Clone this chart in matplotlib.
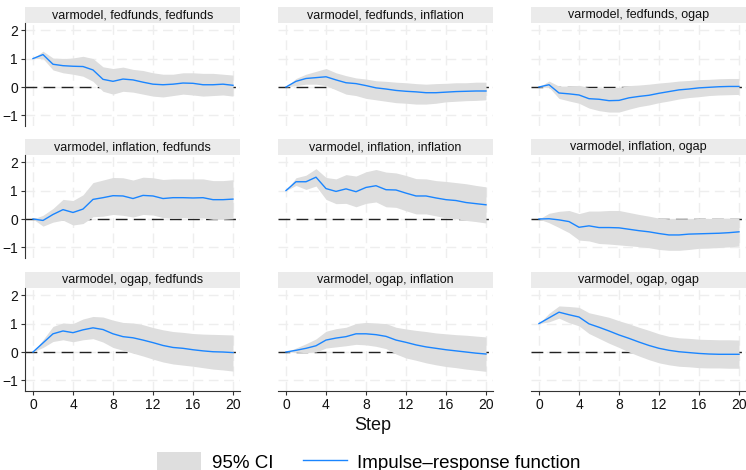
import numpy as np
import matplotlib.pyplot as plt
from matplotlib.patches import Rectangle, Patch
from matplotlib.lines import Line2D

plt.rcParams['font.family'] = ['Liberation Sans', 'DejaVu Sans']

step = np.arange(21)

# impulse, response pairs in panel order (row = impulse, column = response)
titles = [
    "varmodel, fedfunds, fedfunds", "varmodel, fedfunds, inflation", "varmodel, fedfunds, ogap",
    "varmodel, inflation, fedfunds", "varmodel, inflation, inflation", "varmodel, inflation, ogap",
    "varmodel, ogap, fedfunds", "varmodel, ogap, inflation", "varmodel, ogap, ogap",
]

irf_ff_ff = [1.0, 1.14, 0.8, 0.75, 0.73, 0.72, 0.6, 0.27, 0.2, 0.28, 0.25, 0.17, 0.1, 0.08, 0.1,
             0.14, 0.13, 0.08, 0.08, 0.1, 0.06]
lo_ff_ff = [1.0, 1.0, 0.6, 0.5, 0.45, 0.38, 0.2, -0.15, -0.25, -0.15, -0.18, -0.25, -0.32, -0.35,
            -0.3, -0.25, -0.28, -0.32, -0.3, -0.28, -0.32]
hi_ff_ff = [1.0, 1.26, 1.02, 1.0, 1.02, 1.08, 1.0, 0.71, 0.65, 0.7, 0.62, 0.58, 0.5, 0.45, 0.45,
            0.5, 0.5, 0.48, 0.48, 0.45, 0.42]

irf_ff_inf = [0.0, 0.2, 0.3, 0.33, 0.36, 0.25, 0.15, 0.12, 0.05, -0.03, -0.07, -0.12, -0.15, -0.17,
              -0.2, -0.2, -0.18, -0.16, -0.15, -0.14, -0.14]
lo_ff_inf = [0.0, 0.05, 0.1, 0.1, 0.05, -0.1, -0.25, -0.3, -0.4, -0.45, -0.5, -0.55, -0.57, -0.6,
             -0.6, -0.57, -0.52, -0.5, -0.48, -0.47, -0.45]
hi_ff_inf = [0.0, 0.3, 0.45, 0.55, 0.65, 0.5, 0.4, 0.32, 0.28, 0.22, 0.2, 0.17, 0.15, 0.12, 0.1,
             0.12, 0.13, 0.15, 0.15, 0.17, 0.17]

irf_ff_og = [0.0, 0.08, -0.21, -0.24, -0.28, -0.41, -0.43, -0.48, -0.47, -0.38, -0.33, -0.29, -0.22,
             -0.16, -0.1, -0.07, -0.03, -0.01, 0.01, 0.02, 0.02]
lo_ff_og = [0.0, -0.01, -0.4, -0.49, -0.57, -0.74, -0.83, -0.88, -0.88, -0.78, -0.69, -0.63, -0.55,
            -0.49, -0.42, -0.37, -0.34, -0.3, -0.28, -0.27, -0.26]
hi_ff_og = [0.0, 0.21, 0.03, 0.03, 0.06, -0.02, -0.03, -0.03, -0.01, 0.05, 0.07, 0.1, 0.14, 0.17,
            0.21, 0.23, 0.26, 0.27, 0.29, 0.3, 0.3]

irf_inf_ff = [0.0, -0.05, 0.16, 0.33, 0.23, 0.35, 0.69, 0.75, 0.82, 0.81, 0.72, 0.83, 0.81, 0.72,
              0.75, 0.75, 0.74, 0.75, 0.68, 0.68, 0.7]
lo_inf_ff = [0.0, -0.25, -0.11, -0.04, -0.21, -0.16, 0.08, 0.1, 0.16, 0.13, 0.07, 0.16, 0.14, 0.05,
             0.03, 0.05, 0.04, 0.04, -0.01, -0.01, 0.01]
hi_inf_ff = [0.0, 0.13, 0.37, 0.69, 0.65, 0.85, 1.28, 1.37, 1.46, 1.45, 1.37, 1.47, 1.45, 1.39,
             1.41, 1.41, 1.41, 1.41, 1.35, 1.35, 1.38]

irf_inf_inf = [1.0, 1.31, 1.31, 1.47, 1.07, 0.97, 1.06, 0.96, 1.11, 1.17, 1.03, 1.02, 0.91, 0.81,
               0.81, 0.74, 0.68, 0.65, 0.58, 0.54, 0.5]
lo_inf_inf = [1.0, 1.18, 1.04, 1.16, 0.69, 0.54, 0.55, 0.43, 0.55, 0.6, 0.43, 0.41, 0.29, 0.18,
              0.18, 0.11, 0.04, 0.01, -0.05, -0.09, -0.14]
hi_inf_inf = [1.0, 1.45, 1.54, 1.77, 1.46, 1.41, 1.56, 1.51, 1.66, 1.74, 1.65, 1.62, 1.53, 1.42,
              1.41, 1.35, 1.32, 1.28, 1.24, 1.18, 1.13]

irf_inf_og = [0.0, 0.01, -0.03, -0.09, -0.29, -0.24, -0.3, -0.3, -0.31, -0.36, -0.41, -0.45, -0.51,
              -0.56, -0.56, -0.53, -0.52, -0.51, -0.5, -0.48, -0.45]
lo_inf_og = [0.0, -0.13, -0.3, -0.48, -0.74, -0.77, -0.86, -0.88, -0.91, -0.94, -0.97, -1.01, -1.07,
             -1.1, -1.1, -1.07, -1.03, -1.02, -1.0, -0.98, -0.95]
hi_inf_og = [0.0, 0.2, 0.27, 0.3, 0.19, 0.28, 0.28, 0.3, 0.3, 0.23, 0.16, 0.1, 0.03, 0.01, 0.01,
             0.01, 0.02, 0.02, 0.03, 0.03, 0.03]

irf_og_ff = [0.0, 0.32, 0.64, 0.74, 0.68, 0.78, 0.85, 0.79, 0.64, 0.54, 0.5, 0.42, 0.33, 0.23, 0.16,
             0.13, 0.08, 0.04, 0.01, 0.0, -0.02]
lo_og_ff = [0.0, 0.16, 0.37, 0.43, 0.36, 0.43, 0.47, 0.35, 0.16, 0.06, -0.04, -0.14, -0.25, -0.35,
            -0.42, -0.46, -0.5, -0.55, -0.6, -0.63, -0.67]
hi_og_ff = [0.0, 0.43, 0.9, 1.02, 1.0, 1.16, 1.25, 1.23, 1.12, 1.04, 1.02, 0.96, 0.86, 0.78, 0.72,
            0.69, 0.65, 0.63, 0.62, 0.61, 0.6]

irf_og_inf = [0.0, 0.06, 0.13, 0.22, 0.42, 0.49, 0.54, 0.64, 0.64, 0.61, 0.55, 0.42, 0.34, 0.25,
              0.18, 0.13, 0.08, 0.04, 0.0, -0.04, -0.07]
lo_og_inf = [0.0, -0.01, -0.02, 0.0, 0.14, 0.18, 0.22, 0.27, 0.25, 0.2, 0.12, -0.07, -0.21, -0.29,
             -0.38, -0.45, -0.51, -0.55, -0.6, -0.64, -0.68]
hi_og_inf = [0.0, 0.14, 0.29, 0.46, 0.73, 0.82, 0.87, 1.0, 1.04, 1.02, 1.0, 0.87, 0.81, 0.76, 0.72,
             0.67, 0.64, 0.61, 0.59, 0.56, 0.53]

irf_og_og = [1.0, 1.2, 1.4, 1.31, 1.23, 0.99, 0.87, 0.74, 0.6, 0.48, 0.35, 0.23, 0.13, 0.06, 0.01,
             -0.02, -0.05, -0.07, -0.08, -0.08, -0.08]
lo_og_og = [1.0, 1.06, 1.19, 1.03, 0.92, 0.65, 0.48, 0.31, 0.16, 0.0, -0.14, -0.27, -0.38, -0.45,
            -0.5, -0.52, -0.55, -0.56, -0.56, -0.57, -0.57]
hi_og_og = [1.0, 1.36, 1.62, 1.6, 1.57, 1.38, 1.3, 1.22, 1.1, 0.99, 0.87, 0.76, 0.64, 0.55, 0.5,
            0.48, 0.45, 0.44, 0.43, 0.43, 0.42]

irfs = [irf_ff_ff, irf_ff_inf, irf_ff_og, irf_inf_ff, irf_inf_inf, irf_inf_og,
        irf_og_ff, irf_og_inf, irf_og_og]
lows = [lo_ff_ff, lo_ff_inf, lo_ff_og, lo_inf_ff, lo_inf_inf, lo_inf_og,
        lo_og_ff, lo_og_inf, lo_og_og]
highs = [hi_ff_ff, hi_ff_inf, hi_ff_og, hi_inf_ff, hi_inf_inf, hi_inf_og,
         hi_og_ff, hi_og_inf, hi_og_og]

xticks = [0, 4, 8, 12, 16, 20]
yticks = [-1, 0, 1, 2]

band_col = '#dedede'
line_col = '#1a85ff'
strip_col = '#ebebeb'
grid_col = '#eeeeee'

W, H = 746, 470
fig = plt.figure(figsize=(W / 100, H / 100), dpi=100)

col_left = [25, 278, 531]
row_top = [23, 155, 288]
ax_w, ax_h = 215, 103
strip_h = 16

for k in range(9):
    r, c = divmod(k, 3)
    ax = fig.add_axes([col_left[c] / W, 1 - (row_top[r] + ax_h) / H, ax_w / W, ax_h / H])
    ax.set_xlim(-0.8, 20.7)
    ax.set_ylim(-1.37, 2.25)
    ax.set_xticks(xticks)
    ax.set_yticks(yticks)
    ax.set_axisbelow(True)
    ax.grid(True, color=grid_col, lw=1.0, ls=(0, (7, 4)))

    ax.axhline(0, color='#222222', lw=1.0, ls=(0, (8.5, 4.5)), zorder=1)
    ax.fill_between(step, lows[k], highs[k], color=band_col, lw=0, zorder=2)
    ax.plot(step, irfs[k], color=line_col, lw=1.0, zorder=3)

    for side in ['top', 'right', 'left', 'bottom']:
        ax.spines[side].set_visible(False)
    ax.tick_params(length=0, labelsize=10, colors='#111111', pad=2)
    if c == 0:
        ax.spines['left'].set_visible(True)
        ax.spines['left'].set_color('#333333')
        ax.tick_params(axis='y', length=3, width=0.8, color='#333333')
    else:
        ax.set_yticklabels([])
    if r == 2:
        ax.spines['bottom'].set_visible(True)
        ax.spines['bottom'].set_color('#333333')
        ax.tick_params(axis='x', length=3, width=0.8, color='#333333')
    else:
        ax.set_xticklabels([])

    # title strip above each panel
    sh = strip_h / ax_h
    ax.add_patch(Rectangle((0, 1.0), 1, sh, transform=ax.transAxes, facecolor=strip_col,
                           edgecolor='none', clip_on=False))
    ax.text(0.5, 1.0 + sh / 2, titles[k], transform=ax.transAxes, ha='center', va='center',
            fontsize=9, color='#111111')

fig.text(373 / W, 1 - 426 / H, 'Step', ha='center', va='center', fontsize=13, color='#111111')

handles = [Patch(facecolor=band_col, edgecolor='none'),
           Line2D([0], [0], color=line_col, lw=1.0)]
fig.legend(handles, ['95% CI', 'Impulse\u2013response function'], loc='center',
           bbox_to_anchor=(369 / W, 1 - 462 / H), ncol=2, frameon=False, fontsize=13.5,
           handlelength=2.35, handleheight=1.3, columnspacing=1.6, handletextpad=0.55,
           borderpad=0.2)

fig.savefig('out.png', dpi=100)
